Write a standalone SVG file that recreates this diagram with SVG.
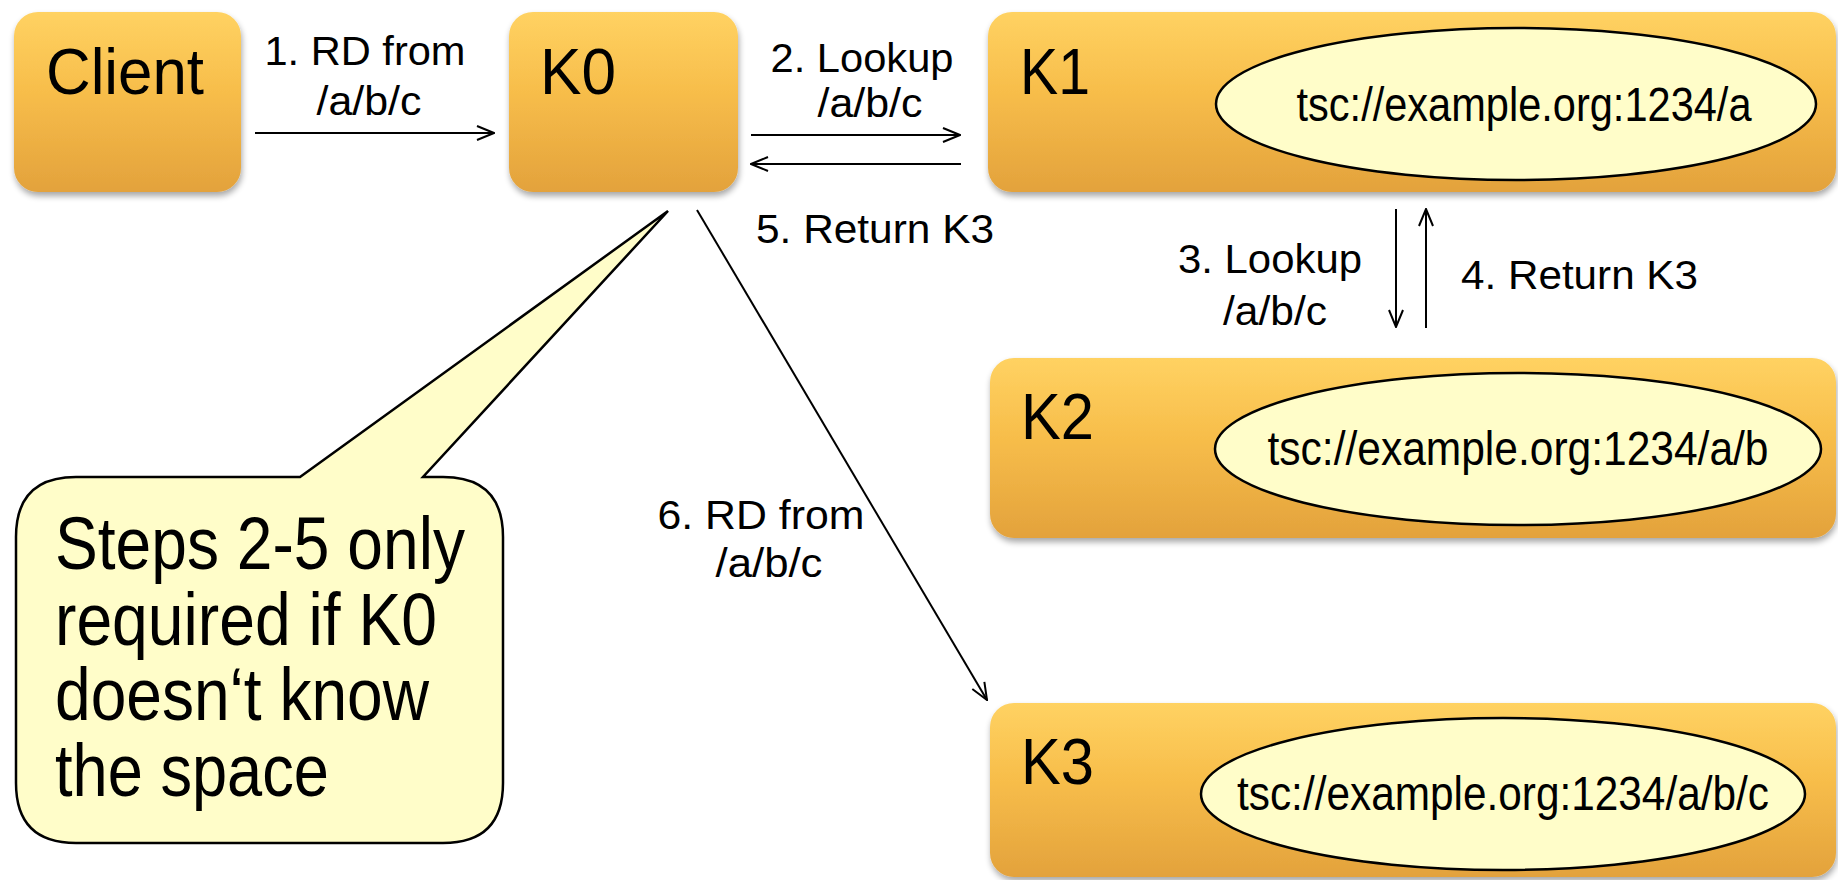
<svg xmlns="http://www.w3.org/2000/svg" width="1838" height="880" viewBox="0 0 1838 880">
<defs>
<linearGradient id="gold" x1="0" y1="0" x2="0" y2="1">
<stop offset="0" stop-color="#FFD262"/>
<stop offset="0.45" stop-color="#F7BD4A"/>
<stop offset="1" stop-color="#E3A23C"/>
</linearGradient>
<filter id="sh" x="-10%" y="-10%" width="120%" height="130%">
<feGaussianBlur in="SourceAlpha" stdDeviation="3"/>
<feOffset dx="1" dy="4" result="b"/>
<feComponentTransfer><feFuncA type="linear" slope="0.35"/></feComponentTransfer>
<feMerge><feMergeNode/><feMergeNode in="SourceGraphic"/></feMerge>
</filter>
<marker id="arr" viewBox="0 0 20 20" refX="19" refY="10" markerWidth="20" markerHeight="20" markerUnits="userSpaceOnUse" orient="auto">
<path d="M2,3 L19,10 L2,17" fill="none" stroke="#000" stroke-width="2"/>
</marker>
<style>
.box{fill:url(#gold);filter:url(#sh);}
.ell{fill:#FFFDC9;stroke:#000;stroke-width:2.5;}
.t{font-family:"Liberation Sans",Arial,sans-serif;fill:#000;}
.big{font-size:65px;}
.lbl{font-size:41px;}
.url{font-size:48px;}
.note{font-size:74px;}
.c{fill:none;stroke:#000;stroke-width:2;}
</style>
</defs>

<g id="client">
<rect class="box" x="14" y="12" width="227" height="180" rx="24"/>
<text class="t big" x="46" y="94" textLength="158" lengthAdjust="spacingAndGlyphs">Client</text>
</g>

<g id="k0">
<rect class="box" x="509" y="12" width="229" height="180" rx="24"/>
<text class="t big" x="540" y="94" textLength="76" lengthAdjust="spacingAndGlyphs">K0</text>
</g>

<g id="k1">
<rect class="box" x="988" y="12" width="848" height="180" rx="24"/>
<text class="t big" x="1020" y="94" textLength="70" lengthAdjust="spacingAndGlyphs">K1</text>
<ellipse class="ell" cx="1516" cy="104" rx="300" ry="76"/>
<text class="t url" x="1524" y="121" text-anchor="middle" textLength="455" lengthAdjust="spacingAndGlyphs">tsc://example.org:1234/a</text>
</g>

<g id="k2">
<rect class="box" x="990" y="358" width="846" height="180" rx="24"/>
<text class="t big" x="1021" y="439" textLength="73" lengthAdjust="spacingAndGlyphs">K2</text>
<ellipse class="ell" cx="1518" cy="449" rx="303" ry="76"/>
<text class="t url" x="1518" y="465" text-anchor="middle" textLength="501" lengthAdjust="spacingAndGlyphs">tsc://example.org:1234/a/b</text>
</g>

<g id="k3">
<rect class="box" x="990" y="703" width="846" height="174" rx="24"/>
<text class="t big" x="1021" y="784" textLength="73" lengthAdjust="spacingAndGlyphs">K3</text>
<ellipse class="ell" cx="1503" cy="794" rx="302" ry="76"/>
<text class="t url" x="1503" y="810" text-anchor="middle" textLength="532" lengthAdjust="spacingAndGlyphs">tsc://example.org:1234/a/b/c</text>
</g>

<g id="callout">
<path d="M16,537 Q16,477 76,477 L300,477 L668,211 L423,477 L443,477 Q503,477 503,537 L503,783 Q503,843 443,843 L76,843 Q16,843 16,783 Z" fill="#FFFDC9" stroke="#000" stroke-width="2.5" stroke-linejoin="miter"/>
<text class="t note" x="55" y="569" textLength="410" lengthAdjust="spacingAndGlyphs">Steps 2-5 only</text>
<text class="t note" x="55" y="645" textLength="382" lengthAdjust="spacingAndGlyphs">required if K0</text>
<text class="t note" x="55" y="720" textLength="374" lengthAdjust="spacingAndGlyphs">doesn‘t know</text>
<text class="t note" x="55" y="796" textLength="274" lengthAdjust="spacingAndGlyphs">the space</text>
</g>

<g id="connectors">
<line class="c" x1="255" y1="133" x2="494" y2="133" marker-end="url(#arr)"/>
<line class="c" x1="751" y1="135" x2="960" y2="135" marker-end="url(#arr)"/>
<line class="c" x1="961" y1="164" x2="751" y2="164" marker-end="url(#arr)"/>
<line class="c" x1="1396" y1="209" x2="1396" y2="327" marker-end="url(#arr)"/>
<line class="c" x1="1426" y1="328" x2="1426" y2="209" marker-end="url(#arr)"/>
<line class="c" x1="697" y1="210" x2="987" y2="700" marker-end="url(#arr)"/>
</g>

<g id="labels">
<text class="t lbl" x="365" y="65" text-anchor="middle" textLength="201" lengthAdjust="spacingAndGlyphs">1. RD from</text>
<text class="t lbl" x="369" y="115" text-anchor="middle" textLength="105" lengthAdjust="spacingAndGlyphs">/a/b/c</text>
<text class="t lbl" x="862" y="72" text-anchor="middle" textLength="183" lengthAdjust="spacingAndGlyphs">2. Lookup</text>
<text class="t lbl" x="870" y="117" text-anchor="middle" textLength="105" lengthAdjust="spacingAndGlyphs">/a/b/c</text>
<text class="t lbl" x="994" y="243" text-anchor="end" textLength="238" lengthAdjust="spacingAndGlyphs">5. Return K3</text>
<text class="t lbl" x="1270" y="273" text-anchor="middle" textLength="184" lengthAdjust="spacingAndGlyphs">3. Lookup</text>
<text class="t lbl" x="1275" y="325" text-anchor="middle" textLength="104" lengthAdjust="spacingAndGlyphs">/a/b/c</text>
<text class="t lbl" x="1461" y="289" textLength="237" lengthAdjust="spacingAndGlyphs">4. Return K3</text>
<text class="t lbl" x="761" y="529" text-anchor="middle" textLength="207" lengthAdjust="spacingAndGlyphs">6. RD from</text>
<text class="t lbl" x="769" y="577" text-anchor="middle" textLength="107" lengthAdjust="spacingAndGlyphs">/a/b/c</text>
</g>
</svg>
